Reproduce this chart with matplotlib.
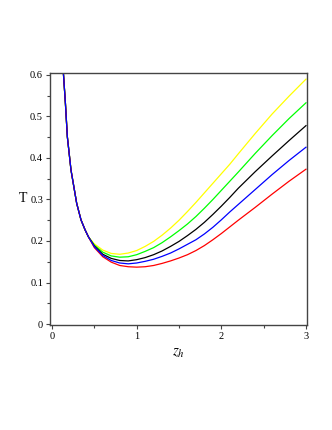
import numpy as np
import matplotlib
matplotlib.use("Agg")
import matplotlib.pyplot as plt
from matplotlib.ticker import MultipleLocator

plt.rcParams['font.family'] = ['Liberation Serif', 'DejaVu Serif']
plt.rcParams['mathtext.fontset'] = 'stix'

# shared branch (all five curves overlap at small z_h)
z_common = [0.134, 0.158, 0.181, 0.224, 0.291, 0.342, 0.39, 0.43]
t_common = [0.605, 0.532, 0.451, 0.371, 0.291, 0.251, 0.227, 0.210]

# values after the curves split
z_split = [0.5, 0.6, 0.7, 0.8, 0.9, 1.0, 1.1, 1.2, 1.3, 1.4, 1.5, 1.6,
           1.7, 1.8, 1.9, 2.0, 2.1, 2.2, 2.4, 2.6, 2.8, 3.0]
t_yellow = [0.193, 0.178, 0.170, 0.168, 0.171, 0.177, 0.187, 0.199, 0.214,
            0.231, 0.250, 0.271, 0.293, 0.316, 0.339, 0.362, 0.385, 0.410,
            0.459, 0.506, 0.549, 0.590]
t_green = [0.190, 0.173, 0.164, 0.161, 0.162, 0.167, 0.175, 0.184, 0.196,
           0.210, 0.225, 0.241, 0.259, 0.279, 0.300, 0.322, 0.344, 0.366,
           0.411, 0.454, 0.495, 0.533]
t_black = [0.188, 0.168, 0.158, 0.153, 0.152, 0.155, 0.160, 0.167, 0.176,
           0.187, 0.199, 0.213, 0.228, 0.245, 0.264, 0.284, 0.305, 0.327,
           0.367, 0.405, 0.442, 0.478]
t_blue = [0.186, 0.165, 0.153, 0.147, 0.145, 0.147, 0.151, 0.156, 0.163,
          0.171, 0.181, 0.192, 0.203, 0.217, 0.233, 0.251, 0.270, 0.288,
          0.324, 0.360, 0.394, 0.426]
t_red = [0.184, 0.162, 0.149, 0.141, 0.138, 0.137, 0.138, 0.141, 0.146,
         0.152, 0.159, 0.167, 0.177, 0.189, 0.203, 0.218, 0.234, 0.250,
         0.281, 0.313, 0.344, 0.373]

series = [(t_yellow, '#ffff00'), (t_green, '#00ff00'), (t_black, 'k'),
          (t_red, '#ff0000'), (t_blue, '#0000ff')]

fig = plt.figure(figsize=(3.32, 4.30), dpi=100)
ax = fig.add_axes([50 / 332, 105 / 430, 257 / 332, 252 / 430])

z = z_common + z_split
for t_vals, color in series:
    ax.plot(z, t_common + t_vals, color=color, linewidth=0.9)

ax.set_xlim(-0.024, 3.012)
ax.set_ylim(-0.0024, 0.6048)
ax.xaxis.set_minor_locator(MultipleLocator(0.5))
ax.yaxis.set_minor_locator(MultipleLocator(0.05))
ax.set_xticks([0, 1, 2, 3])
ax.set_xticklabels(['0', '1', '2', '3'])
ax.set_yticks([0, 0.1, 0.2, 0.3, 0.4, 0.5, 0.6])
ax.set_yticklabels(['0', '0.1', '0.2', '0.3', '0.4', '0.5', '0.6'])

for sp in ax.spines.values():
    sp.set_color('#444444')
    sp.set_linewidth(1.0)
ax.tick_params(which='major', length=3, width=0.8, color='#444444',
               labelsize=7.5, pad=2)
ax.tick_params(which='minor', length=2, width=0.8, color='#444444')

ax.set_xlabel('$z_h$', fontsize=11, labelpad=4)
ax.set_ylabel('T', fontsize=10, rotation=0, labelpad=5, va='center')

fig.savefig('out.png', dpi=100)
